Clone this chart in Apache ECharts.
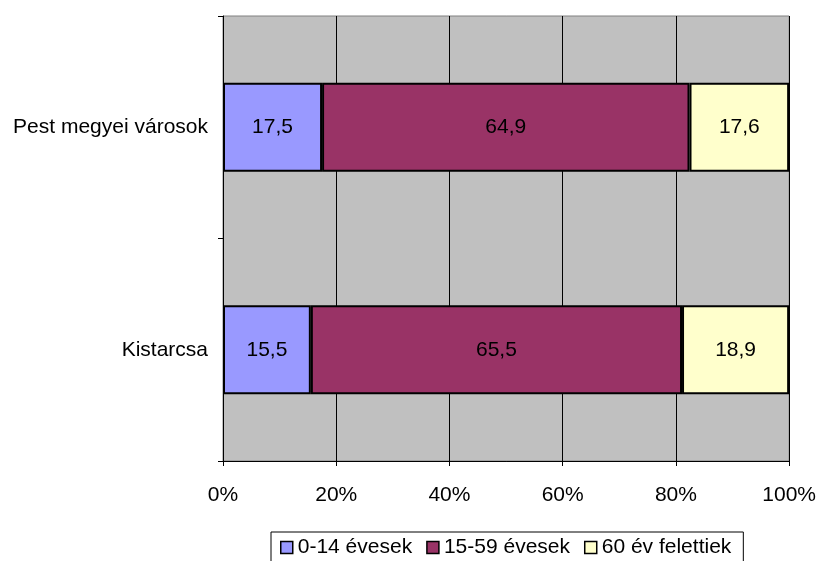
<!DOCTYPE html>
<html><head><meta charset="utf-8">
<script src="https://cdn.jsdelivr.net/npm/echarts@6/dist/echarts.min.js"></script>
<style>html,body{margin:0;padding:0;background:#fff}#c{width:819px;height:561px}</style>
</head><body><div id="c"></div>
<script>
const categories = ['Pest megyei városok', 'Kistarcsa'];
const age0_14 = [17.5, 15.5];
const age15_59 = [64.9, 65.5];
const age60plus = [17.6, 18.9];
const seriesNames = ['0-14 évesek', '15-59 évesek', '60 év felettiek'];
const colors = ['#9999FF', '#993366', '#FFFFCC'];
const tickLabels = ['0%', '20%', '40%', '60%', '80%', '100%'];

const raw = [age0_14, age15_59, age60plus];
const totals = categories.map((_, i) => raw.reduce((s, a) => s + a[i], 0));
const font = 'Liberation Sans, Arial, sans-serif';
const fs = 21;

const chart = echarts.init(document.getElementById('c'), null, {renderer: 'canvas'});
chart.setOption({
  animation: false,
  textStyle: {fontFamily: font},
  grid: {left: 223, right: 29, top: 16, bottom: 100, show: true, backgroundColor: '#C0C0C0', borderColor: '#808080', borderWidth: 1},
  xAxis: {
    type: 'value', min: 0, max: 100, interval: 20,
    axisLine: {show: true, lineStyle: {color: '#000', width: 1}},
    axisTick: {show: true, length: 5, lineStyle: {color: '#000'}},
    splitLine: {show: true, lineStyle: {color: '#000', width: 1}},
    axisLabel: {color: '#000', fontSize: fs, fontFamily: font, margin: 24,
      formatter: v => tickLabels[Math.round(v / 20)]}
  },
  yAxis: {
    type: 'category', data: categories, inverse: true,
    axisLine: {show: true, lineStyle: {color: '#000', width: 1}},
    axisTick: {show: true, length: 5, lineStyle: {color: '#000'}},
    axisLabel: {color: '#000', fontSize: fs, fontFamily: font, margin: 15}
  },
  legend: {
    left: 271, top: 532, padding: [5, 12, 10, 9],
    borderColor: '#000', borderWidth: 1, itemGap: 14,
    icon: 'rect', itemWidth: 12, itemHeight: 12,
    itemStyle: {borderColor: '#000', borderWidth: 1.5},
    textStyle: {color: '#000', fontSize: fs, fontFamily: font},
    data: seriesNames
  },
  series: raw.map((arr, k) => ({
    name: seriesNames[k], type: 'bar', stack: 'total',
    barWidth: '40%',
    data: arr.map((v, i) => ({value: v / totals[i] * 100, raw: v})),
    itemStyle: {color: colors[k], borderColor: '#000', borderWidth: 2},
    label: {show: true, position: 'inside', color: '#000', fontSize: fs, fontFamily: font,
      formatter: p => p.data.raw.toFixed(1).replace('.', ',')}
  }))
});
</script></body></html>
